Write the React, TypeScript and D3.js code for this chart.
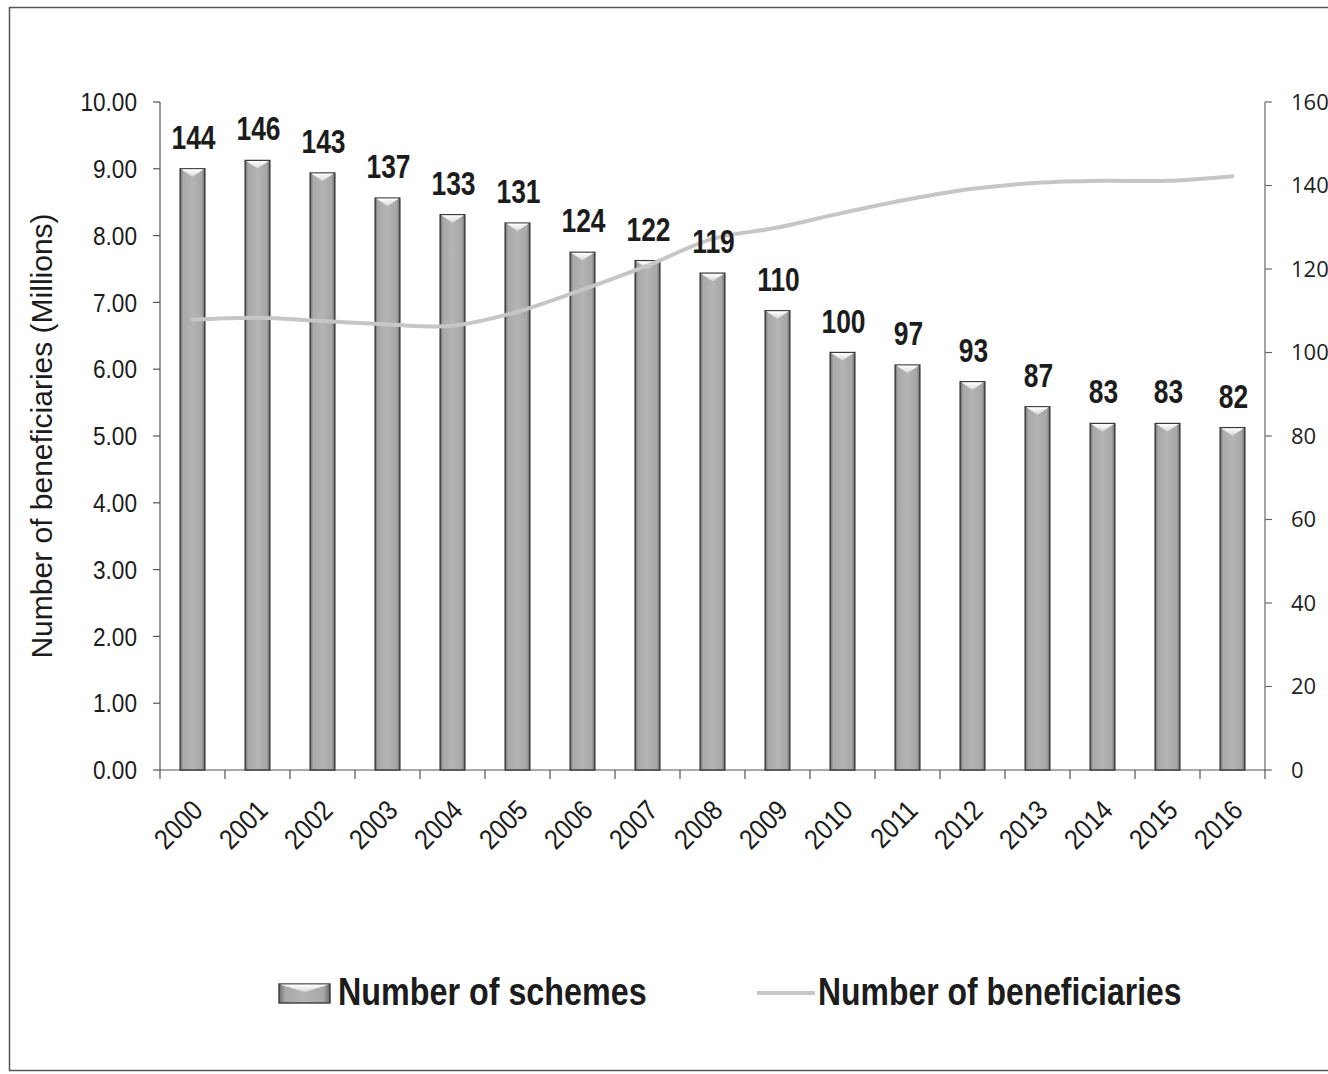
import React from "react";
import * as d3 from "d3";

const years = ["2000", "2001", "2002", "2003", "2004", "2005", "2006", "2007", "2008", "2009", "2010", "2011", "2012", "2013", "2014", "2015", "2016"];
const schemes = [144, 146, 143, 137, 133, 131, 124, 122, 119, 110, 100, 97, 93, 87, 83, 83, 82];
const beneficiaries = [6.74, 6.77, 6.72, 6.67, 6.65, 6.86, 7.19, 7.55, 7.95, 8.12, 8.34, 8.54, 8.7, 8.79, 8.82, 8.82, 8.89];
const leftTicks = [0, 1, 2, 3, 4, 5, 6, 7, 8, 9, 10];
const rightTicks = [0, 20, 40, 60, 80, 100, 120, 140, 160];

const W = 1328;
const H = 1074;
const x0 = 160;
const x1 = 1265;
const yTop = 102;
const yBot = 770;

const SANS = "'Liberation Sans', Arial, sans-serif";

// Condensed text: regular sans squeezed horizontally around its anchor point
function NText(props: {
  x: number;
  y: number;
  sx: number;
  size: number;
  anchor?: "start" | "middle" | "end";
  bold?: boolean;
  dy?: string;
  rotate?: number;
  children: React.ReactNode;
}) {
  const { x, y, sx, size, anchor = "start", bold = false, dy, rotate = 0, children } = props;
  return (
    <g transform={`translate(${x},${y}) rotate(${rotate}) scale(${sx},1)`}>
      <text
        x={0}
        y={0}
        dy={dy}
        textAnchor={anchor}
        fontFamily={SANS}
        fontWeight={bold ? "bold" : "normal"}
        fontSize={size}
        fill="#1c1c1c"
      >
        {children}
      </text>
    </g>
  );
}

export default function App() {
  const x = d3.scaleBand<string>().domain(years).range([x0, x1]).paddingInner(0.62).paddingOuter(0.31);
  const band = d3.scaleBand<string>().domain(years).range([x0, x1]);
  const yL = d3.scaleLinear().domain([0, 10]).range([yBot, yTop]);
  const yR = d3.scaleLinear().domain([0, 160]).range([yBot, yTop]);
  const bw = x.bandwidth();

  const line = d3
    .line<number>()
    .x((_, i) => (band(years[i]) as number) + band.bandwidth() / 2)
    .y((d) => yL(d))
    .curve(d3.curveCatmullRom.alpha(0.5));

  const bar = (bx: number, top: number, w: number, bottom: number, key: string) => (
    <g key={key}>
      <rect x={bx} y={top} width={w} height={bottom - top} fill="url(#barGrad)" stroke="#3a3a3a" strokeWidth={1.4} />
      <polygon
        points={`${bx + 1},${top + 0.5} ${bx + w - 1},${top + 0.5} ${bx + w / 2},${top + 8}`}
        fill="url(#bevelGrad)"
      />
    </g>
  );

  return (
    <svg width={W} height={H} style={{ display: "block", position: "absolute", left: 0, top: 0 }}>
      <defs>
        <linearGradient id="barGrad" x1="0" x2="1" y1="0" y2="0">
          <stop offset="0" stopColor="#6e6e6e" />
          <stop offset="0.12" stopColor="#a9a9a9" />
          <stop offset="0.5" stopColor="#b4b4b4" />
          <stop offset="0.88" stopColor="#a6a6a6" />
          <stop offset="1" stopColor="#666" />
        </linearGradient>
        <linearGradient id="bevelGrad" x1="0" x2="0" y1="0" y2="1">
          <stop offset="0" stopColor="#ffffff" />
          <stop offset="1" stopColor="#d8d8d8" />
        </linearGradient>
      </defs>
      <rect x={0} y={0} width={W} height={H} fill="#fff" />
      <rect x={9.5} y={7.5} width={W + 10} height={1063} fill="none" stroke="#555" strokeWidth={1.5} />

      {/* left axis */}
      <line x1={x0} x2={x0} y1={yTop} y2={yBot} stroke="#555" strokeWidth={1.2} />
      {leftTicks.map((t) => (
        <g key={`l${t}`}>
          <line x1={x0 - 7} x2={x0} y1={yL(t)} y2={yL(t)} stroke="#555" strokeWidth={1.2} />
          <NText x={x0 - 23} y={yL(t)} dy="0.35em" anchor="end" size={26} sx={0.87}>
            {t.toFixed(2)}
          </NText>
        </g>
      ))}
      <text
        transform={`translate(52,${(yTop + yBot) / 2}) rotate(-90)`}
        textAnchor="middle"
        fontFamily={SANS}
        fontSize={30}
        fill="#1c1c1c"
      >
        Number of beneficiaries (Millions)
      </text>

      {/* right axis */}
      <line x1={x1} x2={x1} y1={yTop} y2={yBot} stroke="#666" strokeWidth={1.2} />
      {rightTicks.map((t) => (
        <g key={`r${t}`}>
          <line x1={x1} x2={x1 + 7} y1={yR(t)} y2={yR(t)} stroke="#666" strokeWidth={1.2} />
          <text x={x1 + 26} y={yR(t)} dy="0.36em" fontFamily="'Open Sans', sans-serif" fontSize={22} fill="#222">
            {t}
          </text>
        </g>
      ))}

      {/* x axis */}
      <line x1={x0} x2={x1} y1={yBot} y2={yBot} stroke="#555" strokeWidth={1.2} />
      {years.concat(["end"]).map((_, i) => {
        const tx = x0 + i * band.step();
        return <line key={`t${i}`} x1={tx} x2={tx} y1={yBot} y2={yBot + 9} stroke="#555" strokeWidth={1.2} />;
      })}
      {years.map((yr) => {
        const cx = (band(yr) as number) + band.bandwidth() / 2;
        return (
          <NText key={`xl${yr}`} x={cx + 12} y={yBot + 42} rotate={-45} anchor="end" size={28} sx={0.88}>
            {yr}
          </NText>
        );
      })}

      {/* bars: number of schemes */}
      {schemes.map((v, i) => bar(x(years[i]) as number, yR(v), bw, yBot, `b${i}`))}

      {/* line: number of beneficiaries */}
      <path d={line(beneficiaries) || ""} fill="none" stroke="#c6c6c6" strokeWidth={4} strokeLinecap="round" />

      {/* value labels */}
      {schemes.map((v, i) => (
        <NText
          key={`v${i}`}
          x={(x(years[i]) as number) + bw / 2 + 1}
          y={yR(v) - 20}
          anchor="middle"
          bold
          size={33}
          sx={0.8}
        >
          {v}
        </NText>
      ))}

      {/* legend */}
      {bar(279, 984, 51, 1003, "legBar")}
      <NText x={338} y={1005} bold size={38} sx={0.85}>
        Number of schemes
      </NText>
      <line x1={757} x2={815} y1={993} y2={993} stroke="#c6c6c6" strokeWidth={4} />
      <NText x={818} y={1005} bold size={38} sx={0.84}>
        Number of beneficiaries
      </NText>
    </svg>
  );
}
